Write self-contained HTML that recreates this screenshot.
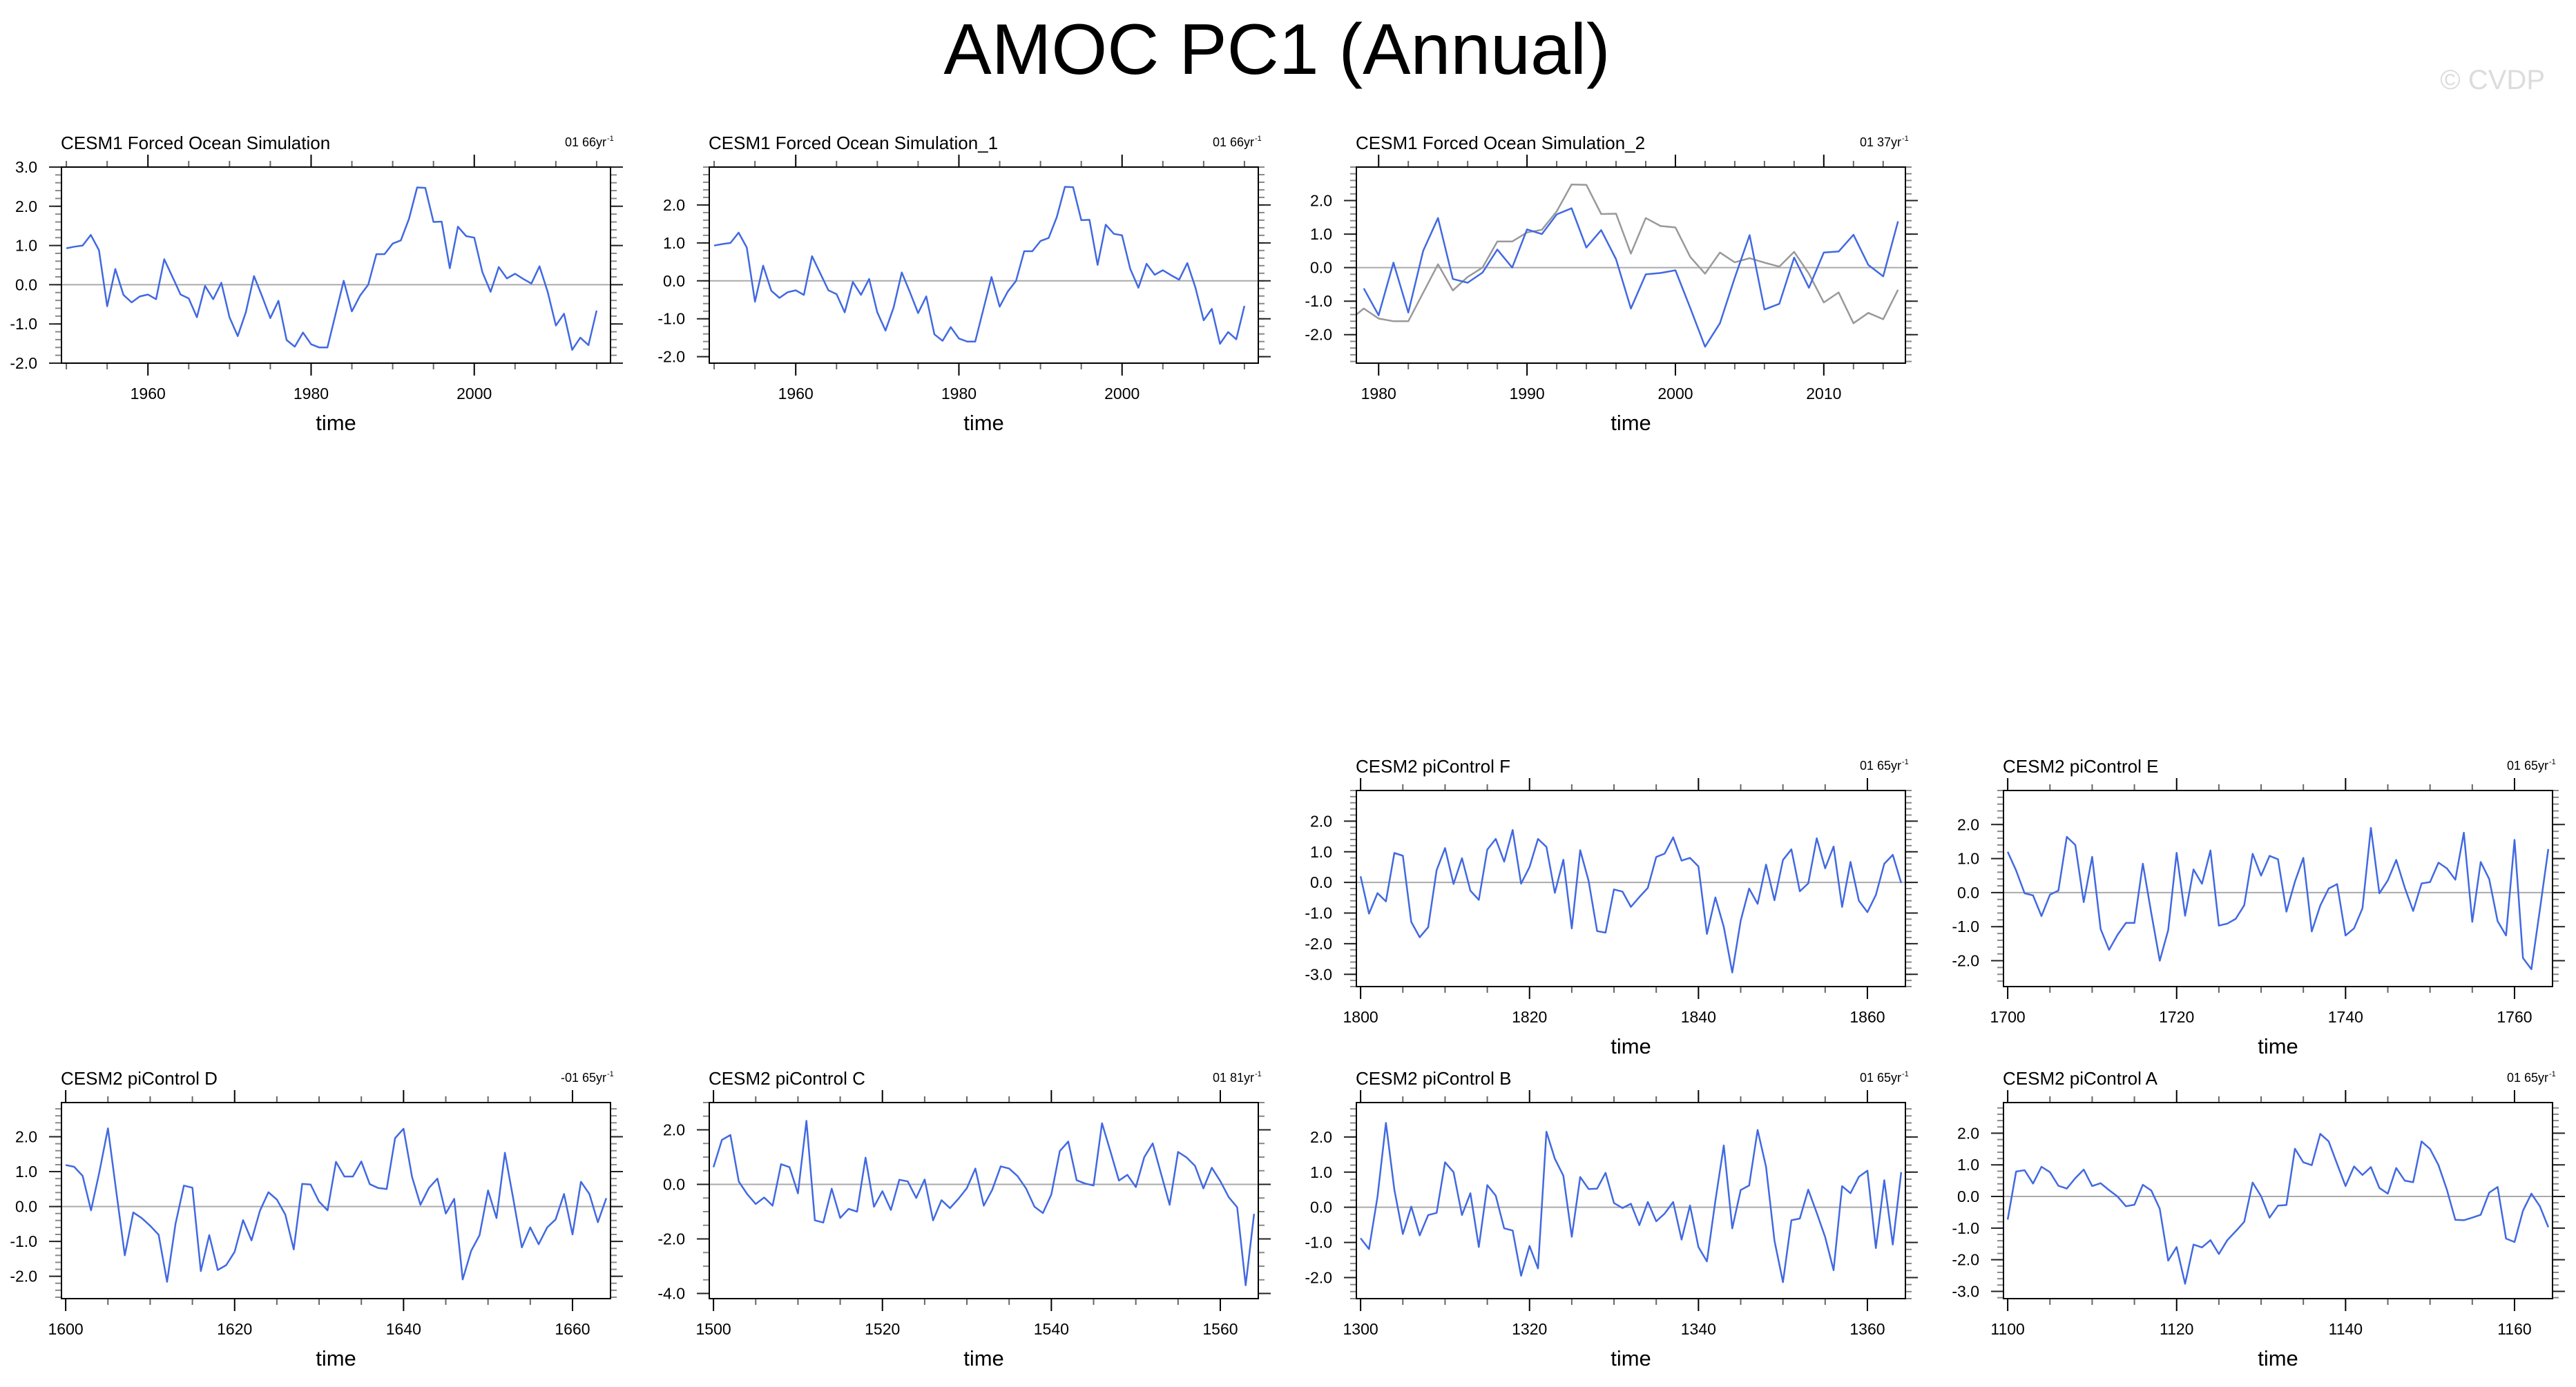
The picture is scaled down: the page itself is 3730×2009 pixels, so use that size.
<!DOCTYPE html>
<html><head><meta charset="utf-8"><title>AMOC PC1 (Annual)</title>
<style>
html,body{margin:0;padding:0;background:#fff;}
svg{display:block;font-family:"Liberation Sans",Arial,sans-serif;}
</style></head>
<body>
<svg id="fig" width="3730" height="2009" viewBox="0 0 3730 2009" xmlns="http://www.w3.org/2000/svg">
<text x="1849" y="107" font-size="104" text-anchor="middle" fill="#000">AMOC PC1 (Annual)</text>
<text x="3685" y="129" font-size="40" text-anchor="end" fill="#dcdcdc">© CVDP</text>
</svg>
<script>
// ---- data ----
const forcedStart = 1950;
const forcedValues = [0.93,0.97,1.0,1.27,0.88,-0.55,0.4,-0.26,-0.45,-0.3,-0.25,-0.37,0.65,0.2,-0.25,-0.35,-0.83,-0.03,-0.37,0.05,-0.83,-1.31,-0.7,0.22,-0.3,-0.85,-0.41,-1.41,-1.58,-1.22,-1.52,-1.6,-1.6,-0.75,0.1,-0.68,-0.28,0.0,0.78,0.78,1.05,1.13,1.68,2.48,2.47,1.6,1.61,0.42,1.48,1.24,1.2,0.32,-0.18,0.45,0.16,0.28,0.15,0.03,0.47,-0.18,-1.04,-0.74,-1.66,-1.35,-1.54,-0.66];
const forced1Start = 1950;
const forced1Values = [0.93,0.97,1.0,1.27,0.88,-0.55,0.4,-0.26,-0.45,-0.3,-0.25,-0.37,0.65,0.2,-0.25,-0.35,-0.83,-0.03,-0.37,0.05,-0.83,-1.31,-0.7,0.22,-0.3,-0.85,-0.41,-1.41,-1.58,-1.22,-1.52,-1.6,-1.6,-0.75,0.1,-0.68,-0.28,0.0,0.78,0.78,1.05,1.13,1.68,2.48,2.47,1.6,1.61,0.42,1.48,1.24,1.2,0.32,-0.18,0.45,0.16,0.28,0.15,0.03,0.47,-0.18,-1.04,-0.74,-1.66,-1.35,-1.54,-0.66];
const forced2Start = 1979;
const forced2Values = [-0.62,-1.42,0.15,-1.34,0.5,1.48,-0.34,-0.45,-0.15,0.54,0.0,1.14,1.0,1.59,1.77,0.6,1.12,0.25,-1.22,-0.2,-0.16,-0.08,-1.2,-2.36,-1.66,-0.3,0.97,-1.25,-1.08,0.3,-0.6,0.45,0.48,0.98,0.08,-0.26,1.38];
const ctrlFStart = 1800;
const ctrlFValues = [0.2,-1.02,-0.35,-0.62,0.96,0.87,-1.29,-1.79,-1.46,0.4,1.12,-0.05,0.79,-0.27,-0.57,1.07,1.42,0.68,1.71,-0.04,0.5,1.42,1.16,-0.34,0.74,-1.5,1.05,0.05,-1.59,-1.64,-0.23,-0.3,-0.8,-0.48,-0.18,0.83,0.94,1.47,0.71,0.8,0.52,-1.68,-0.49,-1.45,-2.94,-1.25,-0.2,-0.7,0.58,-0.58,0.73,1.08,-0.29,-0.03,1.44,0.46,1.17,-0.8,0.67,-0.6,-0.97,-0.41,0.61,0.9,-0.02];
const ctrlEStart = 1700;
const ctrlEValues = [1.2,0.65,-0.02,-0.08,-0.69,-0.06,0.06,1.64,1.4,-0.28,1.05,-1.07,-1.68,-1.24,-0.89,-0.89,0.85,-0.6,-2.0,-1.1,1.17,-0.68,0.68,0.26,1.24,-0.97,-0.91,-0.77,-0.37,1.14,0.5,1.08,0.98,-0.56,0.32,1.02,-1.14,-0.38,0.12,0.25,-1.26,-1.05,-0.46,1.9,-0.02,0.36,0.96,0.15,-0.54,0.27,0.31,0.88,0.71,0.38,1.76,-0.86,0.9,0.4,-0.84,-1.26,1.55,-1.92,-2.25,-0.5,1.28];
const ctrlDStart = 1600;
const ctrlDValues = [1.19,1.14,0.88,-0.11,1.0,2.24,0.41,-1.4,-0.17,-0.33,-0.55,-0.81,-2.16,-0.5,0.6,0.54,-1.85,-0.82,-1.82,-1.68,-1.3,-0.39,-0.97,-0.12,0.41,0.2,-0.23,-1.23,0.65,0.63,0.14,-0.11,1.28,0.86,0.86,1.29,0.64,0.53,0.5,1.96,2.23,0.85,0.05,0.53,0.8,-0.2,0.22,-2.09,-1.27,-0.82,0.46,-0.33,1.54,0.21,-1.17,-0.6,-1.08,-0.6,-0.37,0.36,-0.8,0.71,0.36,-0.45,0.24];
const ctrlCStart = 1500;
const ctrlCValues = [0.63,1.63,1.81,0.1,-0.36,-0.72,-0.48,-0.78,0.74,0.63,-0.33,2.33,-1.32,-1.4,-0.16,-1.23,-0.9,-1.0,0.98,-0.82,-0.25,-0.94,0.17,0.11,-0.5,0.18,-1.32,-0.58,-0.87,-0.53,-0.14,0.58,-0.78,-0.2,0.66,0.58,0.3,-0.15,-0.82,-1.05,-0.37,1.22,1.57,0.15,0.03,-0.04,2.24,1.2,0.14,0.35,-0.1,1.0,1.5,0.38,-0.75,1.19,0.99,0.68,-0.15,0.61,0.12,-0.47,-0.84,-3.7,-1.08];
const ctrlBStart = 1300;
const ctrlBValues = [-0.88,-1.19,0.3,2.4,0.5,-0.76,0.02,-0.8,-0.22,-0.16,1.28,1.0,-0.22,0.4,-1.13,0.63,0.33,-0.6,-0.66,-1.95,-1.1,-1.74,2.15,1.38,0.9,-0.84,0.86,0.52,0.53,0.98,0.12,-0.02,0.1,-0.51,0.15,-0.4,-0.18,0.15,-0.92,0.05,-1.13,-1.54,0.18,1.76,-0.6,0.49,0.62,2.2,1.15,-0.95,-2.13,-0.37,-0.32,0.5,-0.16,-0.85,-1.79,0.6,0.4,0.87,1.04,-1.16,0.77,-1.06,1.0];
const ctrlAStart = 1100;
const ctrlAValues = [-0.73,0.79,0.83,0.41,0.94,0.77,0.34,0.25,0.58,0.85,0.33,0.42,0.2,0.0,-0.31,-0.26,0.37,0.19,-0.39,-2.03,-1.6,-2.76,-1.52,-1.61,-1.38,-1.82,-1.38,-1.1,-0.8,0.44,0.01,-0.67,-0.29,-0.27,1.51,1.08,0.99,1.98,1.74,1.03,0.33,0.95,0.68,0.93,0.27,0.09,0.9,0.5,0.45,1.74,1.5,0.99,0.21,-0.74,-0.75,-0.67,-0.58,0.12,0.3,-1.33,-1.44,-0.45,0.09,-0.31,-0.97];
const yTicksStd = [2.0,1.0,0.0,-1.0,-2.0];
const yTicksF = [2.0,1.0,0.0,-1.0,-2.0,-3.0];
const yTicksP1 = [3.0,2.0,1.0,0.0,-1.0,-2.0];
const yTicksC = [2.0,0.0,-2.0,-4.0];

// ---- layout ----
const NS = "http://www.w3.org/2000/svg";
const svg = document.getElementById('fig');
const BLUE = "#4169e1";
const panels = [
 {name:'cesm1-forced', title:'CESM1 Forced Ocean Simulation', rl:'01 66yr', x:89, y:242, start:forcedStart, vals:forcedValues, xmin:1949.4, xmax:2016.7, ymin:-2, ymax:3, yt:yTicksP1, minor:0.2, xmaj:20, xmin2:5},
 {name:'cesm1-forced-1', title:'CESM1 Forced Ocean Simulation_1', rl:'01 66yr', x:1027, y:242, start:forced1Start, vals:forced1Values, xmin:1949.4, xmax:2016.7, ymin:-2.17, ymax:3, yt:yTicksStd, minor:0.2, xmaj:20, xmin2:5},
 {name:'cesm1-forced-2', title:'CESM1 Forced Ocean Simulation_2', rl:'01 37yr', x:1964, y:242, start:forced2Start, vals:forced2Values, xmin:1978.5, xmax:2015.5, ymin:-2.85, ymax:3, yt:yTicksStd, minor:0.2, xmaj:10, xmin2:2, overlay:true},
 {name:'cesm2-picontrol-f', title:'CESM2 piControl F', rl:'01 65yr', x:1964, y:1145, start:ctrlFStart, vals:ctrlFValues, xmin:1799.5, xmax:1864.5, ymin:-3.4, ymax:3, yt:yTicksF, minor:0.2, xmaj:20, xmin2:5},
 {name:'cesm2-picontrol-e', title:'CESM2 piControl E', rl:'01 65yr', x:2901, y:1145, start:ctrlEStart, vals:ctrlEValues, xmin:1699.5, xmax:1764.5, ymin:-2.76, ymax:3, yt:yTicksStd, minor:0.2, xmaj:20, xmin2:5},
 {name:'cesm2-picontrol-d', title:'CESM2 piControl D', rl:'-01 65yr', x:89, y:1597, start:ctrlDStart, vals:ctrlDValues, xmin:1599.5, xmax:1664.5, ymin:-2.64, ymax:2.98, yt:yTicksStd, minor:0.2, xmaj:20, xmin2:5},
 {name:'cesm2-picontrol-c', title:'CESM2 piControl C', rl:'01 81yr', x:1027, y:1597, start:ctrlCStart, vals:ctrlCValues, xmin:1499.5, xmax:1564.5, ymin:-4.19, ymax:3, yt:yTicksC, minor:0.5, xmaj:20, xmin2:5},
 {name:'cesm2-picontrol-b', title:'CESM2 piControl B', rl:'01 65yr', x:1964, y:1597, start:ctrlBStart, vals:ctrlBValues, xmin:1299.5, xmax:1364.5, ymin:-2.6, ymax:2.98, yt:yTicksStd, minor:0.2, xmaj:20, xmin2:5},
 {name:'cesm2-picontrol-a', title:'CESM2 piControl A', rl:'01 65yr', x:2901, y:1597, start:ctrlAStart, vals:ctrlAValues, xmin:1099.5, xmax:1164.5, ymin:-3.23, ymax:2.97, yt:yTicksF, minor:0.2, xmaj:20, xmin2:5}
];
const W = 795, H = 284;

function mk(tag, attrs, parent){
  const e = document.createElementNS(NS, tag);
  for (const k in attrs) e.setAttribute(k, attrs[k]);
  (parent||svg).appendChild(e);
  return e;
}

panels.forEach((p, pi) => {
  const g = mk('g', {});
  
  
  const sx = t => p.x + (t - p.xmin) / (p.xmax - p.xmin) * W;
  const sy = v => p.y + (p.ymax - v) / (p.ymax - p.ymin) * H;
  const clipId = 'clip' + pi;
  const cp = mk('clipPath', {id: clipId}, g);
  mk('rect', {x:p.x, y:p.y, width:W, height:H}, cp);

  // titles
  const t1 = mk('text', {x:p.x - 1, y:p.y - 26, 'font-size':26, fill:'#000'}, g);
  t1.textContent = p.title;
  
  
  const t2 = mk('text', {x:p.x + W - 6, y:p.y - 30, 'font-size':18, 'text-anchor':'end', fill:'#000'}, g);
  t2.textContent = p.rl;
  
  
  const sup = mk('text', {x:p.x + W - 5, y:p.y - 38, 'font-size':11, fill:'#000'}, g);
  sup.textContent = '-1';
  
  

  // x ticks
  const first = Math.ceil(p.xmin / p.xmin2) * p.xmin2;
  for (let t = first; t <= p.xmax; t += p.xmin2) {
    const X = sx(t);
    const major = (t % p.xmaj === 0);
    const len = major ? 18 : 9;
    const col = major ? '#000' : '#666';
    mk('line', {x1:X, x2:X, y1:p.y + H, y2:p.y + H + len, stroke:col, 'stroke-width':2}, g);
    mk('line', {x1:X, x2:X, y1:p.y, y2:p.y - len, stroke:col, 'stroke-width':2}, g);
    if (major) {
      const lt = mk('text', {x:X, y:p.y + H + 52, 'font-size':23, 'text-anchor':'middle', fill:'#000'}, g);
      lt.textContent = String(t);
      
      
    }
  }
  // y minor ticks
  const nMin = Math.ceil(p.ymin / p.minor - 1e-6);
  const nMax = Math.floor(p.ymax / p.minor + 1e-6);
  for (let n = nMin; n <= nMax; n++) {
    const Y = sy(n * p.minor);
    mk('line', {x1:p.x - 9, x2:p.x, y1:Y, y2:Y, stroke:'#888', 'stroke-width':2}, g);
    mk('line', {x1:p.x + W, x2:p.x + W + 9, y1:Y, y2:Y, stroke:'#888', 'stroke-width':2}, g);
  }
  // y major ticks + labels
  p.yt.forEach(v => {
    const Y = sy(v);
    mk('line', {x1:p.x - 18, x2:p.x, y1:Y, y2:Y, stroke:'#222', 'stroke-width':2}, g);
    mk('line', {x1:p.x + W, x2:p.x + W + 18, y1:Y, y2:Y, stroke:'#222', 'stroke-width':2}, g);
    const lt = mk('text', {x:p.x - 35, y:Y + 8, 'font-size':23, 'text-anchor':'end', fill:'#000'}, g);
    lt.textContent = v.toFixed(1);
    
    
  });

  // zero line
  const z = mk('line', {x1:p.x, x2:p.x + W, y1:sy(0), y2:sy(0), stroke:'#aaa', 'stroke-width':2}, g);
  
  

  // overlay of forced series in gray
  if (p.overlay) {
    const pts = forcedValues.map((v, i) => sx(forcedStart + i).toFixed(1) + ',' + sy(v).toFixed(1)).join(' ');
    const ov = mk('polyline', {points:pts, fill:'none', stroke:'#999', 'stroke-width':2.5, 'clip-path':'url(#' + clipId + ')', 'stroke-linejoin':'round'}, g);
    
    
  }
  // main series
  const pts = p.vals.map((v, i) => sx(p.start + i).toFixed(1) + ',' + sy(v).toFixed(1)).join(' ');
  const ln = mk('polyline', {points:pts, fill:'none', stroke:BLUE, 'stroke-width':2.5, 'clip-path':'url(#' + clipId + ')', 'stroke-linejoin':'round'}, g);
  
  

  // frame
  const fr = mk('rect', {x:p.x, y:p.y, width:W, height:H, fill:'none', stroke:'#000', 'stroke-width':2}, g);
  
  

  // x axis title
  const xt = mk('text', {x:p.x + W / 2, y:p.y + H + 97, 'font-size':31, 'text-anchor':'middle', fill:'#000'}, g);
  xt.textContent = 'time';
  
  
});
</script>
</body></html>
